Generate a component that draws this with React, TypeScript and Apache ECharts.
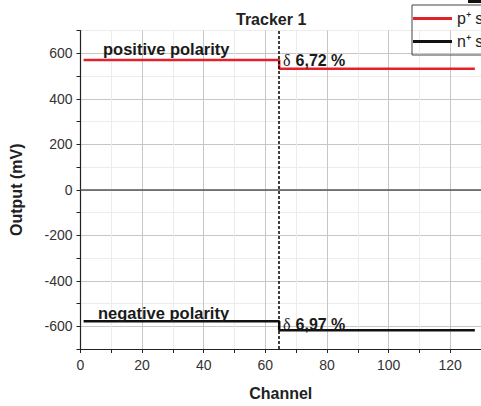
import React, { useEffect, useRef } from 'react';
import * as echarts from 'echarts';

const channels = [1, 64, 65, 128];
const pStrips = [570, 570, 532, 532];
const nStrips = [-578, -578, -618, -618];
const boundaryChannel = 64.5;
const seriesNames = ['p\u207A strips', 'n\u207A strips'];
const titleText = 'Tracker 1';
const xName = 'Channel';
const yName = 'Output (mV)';
const posLabel = 'positive polarity';
const negLabel = 'negative polarity';
const posDelta = '6,72 %';
const negDelta = '6,97 %';

const F = '"Liberation Sans", Arial, Helvetica, sans-serif';
const RED = '#e3212b';
const MAJOR = '#c6c6c6';
const MINOR = '#ececec';

export default function App() {
  const ref = useRef<HTMLDivElement>(null);
  useEffect(() => {
    const chart = echarts.init(ref.current!, null, { renderer: 'svg' });
    const deltaRich = {
      d: { font: '16px "Liberation Serif", "DejaVu Serif", serif', fill: '#1a1a1a', padding: [0, 5, 0, 0] },
      v: { font: `bold 16px ${F}`, fill: '#1a1a1a' },
    };
    chart.setOption({
      animation: false,
      backgroundColor: '#fff',
      title: {
        text: titleText,
        left: 231,
        top: 6,
        textStyle: { fontFamily: F, fontWeight: 'bold', fontSize: 16, color: '#222' },
      },
      legend: {
        orient: 'vertical',
        left: 412,
        top: 5,
        padding: [5, 6, 5, 1],
        itemGap: 6,
        itemWidth: 39,
        itemHeight: 3,
        icon: 'rect',
        borderColor: '#444',
        borderWidth: 1,
        data: seriesNames,
        textStyle: { fontFamily: F, fontSize: 16, color: '#222', lineHeight: 17 },
      },
      grid: { left: 80.5, right: 0, top: 30.5, bottom: 51 },
      xAxis: {
        type: 'value',
        min: 0,
        max: 130,
        interval: 10,
        name: xName,
        nameLocation: 'middle',
        nameGap: 36,
        nameTextStyle: { fontFamily: F, fontWeight: 'bold', fontSize: 16, color: '#222' },
        axisLine: { show: true, onZero: false, lineStyle: { color: '#222', width: 1.2 } },
        axisTick: { show: true, length: 4, lineStyle: { color: '#222' } },
        axisLabel: {
          fontFamily: F,
          fontSize: 14,
          color: '#333',
          margin: 9,
          showMaxLabel: false,
          formatter: (v: number) => (v % 20 === 0 ? String(v) : ''),
        },
        splitLine: { show: true, showMinLine: true, showMaxLine: true, lineStyle: { color: [MAJOR, MINOR], width: 1 } },
      },
      yAxis: {
        type: 'value',
        min: -700,
        max: 700,
        interval: 100,
        name: yName,
        nameLocation: 'middle',
        nameGap: 56,
        nameTextStyle: { fontFamily: F, fontWeight: 'bold', fontSize: 16, color: '#222' },
        axisLine: { show: true, onZero: false, lineStyle: { color: '#222', width: 1.2 } },
        axisTick: { show: true, length: 4, lineStyle: { color: '#222' } },
        axisLabel: {
          fontFamily: F,
          fontSize: 14,
          color: '#333',
          margin: 8,
          formatter: (v: number) => (v % 200 === 0 ? String(v) : ''),
        },
        splitLine: { show: true, showMinLine: true, showMaxLine: true, lineStyle: { color: [MINOR, MAJOR], width: 1 } },
      },
      series: [
        {
          name: seriesNames[0],
          type: 'line',
          step: 'middle',
          symbol: 'none',
          data: channels.map((c, i) => [c, pStrips[i]]),
          lineStyle: { color: RED, width: 2.5 },
          itemStyle: { color: RED },
          z: 3,
        },
        {
          name: seriesNames[1],
          type: 'line',
          step: 'middle',
          symbol: 'none',
          data: channels.map((c, i) => [c, nStrips[i]]),
          lineStyle: { color: '#111', width: 2.5 },
          itemStyle: { color: '#111' },
          z: 3,
          markLine: {
            silent: true,
            symbol: 'none',
            label: { show: false },
            data: [
              { yAxis: 0, lineStyle: { color: '#555', width: 1.6, type: 'solid' } },
              { xAxis: boundaryChannel, lineStyle: { color: '#000', width: 1.5, type: [3, 2] } },
            ],
          },
        },
      ],
      graphic: [
        { type: 'rect', z: 100, shape: { x: 468, y: 0, width: 14, height: 3 }, style: { fill: '#111' } },
        {
          type: 'text', z: 100, x: 103, y: 40,
          style: { text: posLabel, font: `bold 16.5px ${F}`, fill: '#1a1a1a' },
        },
        {
          type: 'text', z: 100, x: 98, y: 304,
          style: { text: negLabel, font: `bold 16.5px ${F}`, fill: '#1a1a1a' },
        },
        {
          type: 'text', z: 100, x: 283, y: 52.5,
          style: { text: `{d|\u03B4}{v|${posDelta}}`, rich: deltaRich },
        },
        {
          type: 'text', z: 100, x: 283, y: 316,
          style: { text: `{d|\u03B4}{v|${negDelta}}`, rich: deltaRich },
        },
      ],
    });
    return () => chart.dispose();
  }, []);
  return <div ref={ref} style={{ position: 'fixed', left: 0, top: 0, width: 481, height: 406 }} />;
}
